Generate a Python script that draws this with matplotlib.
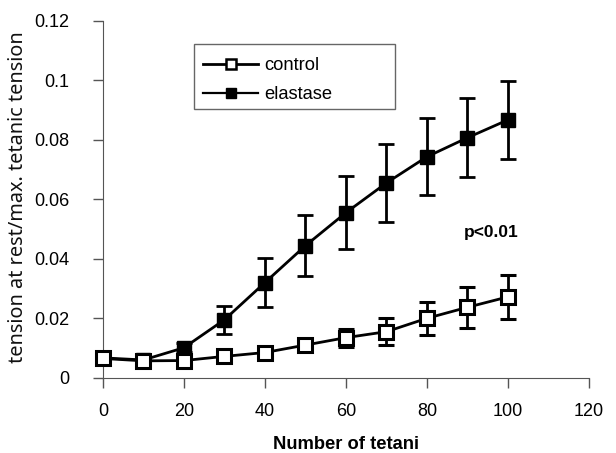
import numpy as np
import matplotlib
matplotlib.use('Agg')
import matplotlib.pyplot as plt
from matplotlib.lines import Line2D
from matplotlib.patches import Rectangle

plt.rcParams['font.family'] = ['Liberation Sans', 'DejaVu Sans']

# data
tetani = [0, 10, 20, 30, 40, 50, 60, 70, 80, 90, 100]

control = [0.0065, 0.0057, 0.0058, 0.0072, 0.0085, 0.011, 0.0135, 0.0155, 0.020, 0.0237, 0.0272]
control_err = [0.0008, 0.0006, 0.0008, 0.0012, 0.0008, 0.0018, 0.003, 0.0045, 0.0055, 0.0068, 0.0075]

elastase = [0.0067, 0.006, 0.0101, 0.0195, 0.032, 0.0444, 0.0555, 0.0655, 0.0743, 0.0807, 0.0867]
elastase_err = [0.0008, 0.0006, 0.0015, 0.0047, 0.0083, 0.0103, 0.0123, 0.013, 0.013, 0.0133, 0.013]

xticks = [0, 20, 40, 60, 80, 100, 120]
yticks = [0, 0.02, 0.04, 0.06, 0.08, 0.1, 0.12]
ytick_labels = ['0', '0.02', '0.04', '0.06', '0.08', '0.1', '0.12']

W, H = 616, 453
fig = plt.figure(figsize=(W / 100, H / 100), dpi=100)
ax = fig.add_axes([0.167, 0.166, 0.789, 0.788])

ax.errorbar(tetani, elastase, yerr=elastase_err, color='black', lw=2,
            marker='s', ms=10, mfc='black', mec='black', capsize=6,
            elinewidth=2, capthick=2, zorder=3, clip_on=False)
ax.errorbar(tetani, control, yerr=control_err, color='black', lw=2,
            marker='s', ms=9.5, mfc='white', mec='black', mew=2.2, capsize=6,
            elinewidth=2, capthick=2, zorder=4, clip_on=False)

ax.set_xlim(0, 120)
ax.set_ylim(0, 0.12)
ax.set_xticks(xticks)
ax.set_yticks(yticks)
ax.set_yticklabels(ytick_labels)
ax.tick_params(direction='out', length=7, labelsize=13, width=1, color='#555555')
ax.tick_params(axis='x', pad=11)
ax.tick_params(axis='y', pad=17)
ax.spines['top'].set_visible(False)
ax.spines['right'].set_visible(False)
ax.spines['left'].set_color('#555555')
ax.spines['bottom'].set_color('#555555')

ax.set_xlabel('Number of tetani', fontsize=13.2, fontweight='bold', labelpad=11.5)

# y label: fit its length to the picture
ylab = fig.text(0.03, 0.565, 'tension at rest/max. tetanic tension', rotation=90,
                family=['Noto Sans', 'DejaVu Sans'], fontsize=14, ha='center', va='center',
                color='#111111')
fig.canvas.draw()
h = ylab.get_window_extent().height
ylab.set_fontsize(14 * 332.0 / h)

ax.text(95.8, 0.049, 'p<0.01', fontsize=12.5, fontweight='bold', ha='center', va='center')

# legend: plain line + marker handles, box drawn separately
h_control = Line2D([], [], color='black', lw=2, marker='s', ms=7, mfc='white', mec='black', mew=1.8)
h_elastase = Line2D([], [], color='black', lw=1.6, marker='s', ms=7, mfc='black', mec='black')
leg = fig.legend([h_control, h_elastase], ['control', 'elastase'], loc='upper left',
                 bbox_to_anchor=(203 / W, 1 - 57 / H), fontsize=13.2, frameon=False,
                 handlelength=3.0, borderpad=0.0, borderaxespad=0.0, labelspacing=0.66,
                 handletextpad=0.35)
fig.patches.append(Rectangle((194 / W, 1 - 109 / H), 201 / W, 65 / H, transform=fig.transFigure,
                             fill=False, edgecolor='#666666', lw=1))

fig.savefig('out.png', dpi=100)
